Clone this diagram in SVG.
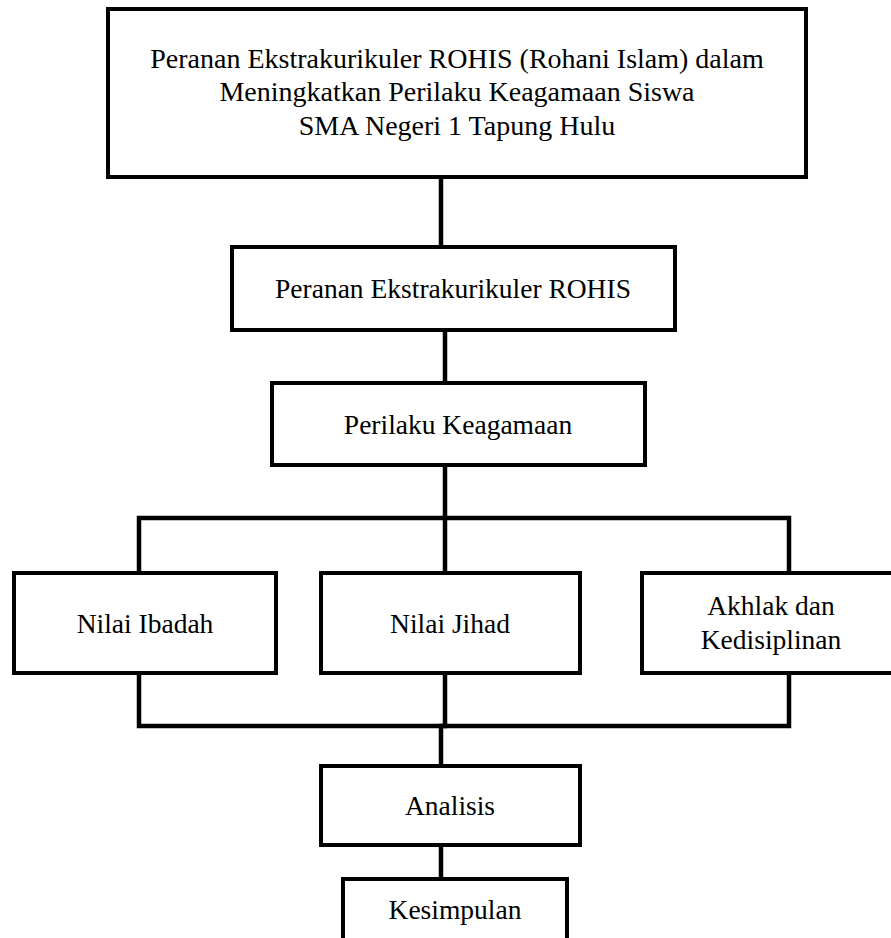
<svg xmlns="http://www.w3.org/2000/svg" width="891" height="938" viewBox="0 0 891 938">
<style>
.box{fill:#fff;stroke:#000;stroke-width:4}
.ln{stroke:#000;stroke-width:4.5;fill:none;stroke-linecap:square}
text{font-family:'Liberation Serif',Tinos,'Times New Roman',Times,serif;fill:#000;text-anchor:middle}
.t{font-size:27.5px}
.tt{font-size:28px}
</style>
<rect width="891" height="938" fill="#fff"/>
<g id="connectors">
<line class="ln" x1="441" y1="177" x2="441" y2="247"/>
<line class="ln" x1="445" y1="330" x2="445" y2="383"/>
<line class="ln" x1="445" y1="465" x2="445" y2="518"/>
<polyline class="ln" points="139,573 139,518 789,518 789,573"/>
<line class="ln" x1="445" y1="518" x2="445" y2="573"/>
<polyline class="ln" points="139,673 139,726 789,726 789,673"/>
<line class="ln" x1="445" y1="673" x2="445" y2="726"/>
<line class="ln" x1="441" y1="726" x2="441" y2="766"/>
<line class="ln" x1="441" y1="845" x2="441" y2="879"/>
</g>
<g id="title">
<rect class="box" x="108" y="9" width="698" height="168"/>
<text class="tt" x="457" y="68">Peranan Ekstrakurikuler ROHIS (Rohani Islam) dalam</text>
<text class="tt" x="457" y="101">Meningkatkan Perilaku Keagamaan Siswa</text>
<text class="tt" x="457" y="135">SMA Negeri 1 Tapung Hulu</text>
</g>
<g id="peranan">
<rect class="box" x="232" y="247" width="443" height="83"/>
<text class="t" x="453" y="298">Peranan Ekstrakurikuler ROHIS</text>
</g>
<g id="perilaku">
<rect class="box" x="272" y="383" width="373" height="82"/>
<text class="t" x="458" y="434">Perilaku Keagamaan</text>
</g>
<g id="ibadah">
<rect class="box" x="14" y="573" width="262" height="100"/>
<text class="t" x="145" y="633">Nilai Ibadah</text>
</g>
<g id="jihad">
<rect class="box" x="321" y="573" width="259" height="100"/>
<text class="t" x="450" y="633">Nilai Jihad</text>
</g>
<g id="akhlak">
<rect class="box" x="642" y="573" width="256" height="100"/>
<text class="t" x="771" y="615">Akhlak dan</text>
<text class="t" x="771" y="649">Kedisiplinan</text>
</g>
<g id="analisis">
<rect class="box" x="321" y="766" width="259" height="79"/>
<text class="t" x="450" y="815">Analisis</text>
</g>
<g id="kesimpulan">
<rect class="box" x="343" y="879" width="224" height="70"/>
<text class="t" x="455" y="919">Kesimpulan</text>
</g>
</svg>
